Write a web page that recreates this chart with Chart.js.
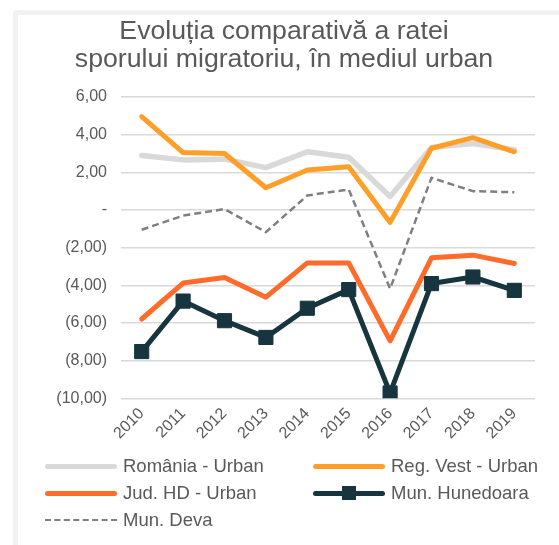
<!DOCTYPE html>
<html>
<head>
<meta charset="utf-8">
<title>Evoluția comparativă a ratei sporului migratoriu</title>
<script src="https://cdn.jsdelivr.net/npm/chart.js@4/dist/chart.umd.min.js"></script>
<style>
  html, body { margin: 0; padding: 0; background: #ffffff; }
  body { width: 559px; height: 545px; position: relative; overflow: hidden; font-family: "Liberation Sans", Arial, sans-serif; }
  .frame { position: absolute; left: 13px; top: 10px; width: 600px; height: 600px; border-left: 5px solid #f2f2f2; border-top: 5px solid #f2f2f2; border-top-left-radius: 4px; }
  .chart-box { position: absolute; left: 0; top: 0; width: 559px; height: 450px; }
  .legend { position: absolute; left: 0; top: 0; width: 559px; height: 545px; pointer-events: none; }
  .legend-item { position: absolute; height: 20px; display: flex; align-items: center; color: #595959; font-size: 18.5px; white-space: nowrap; }
  .legend-line { position: relative; width: 72px; margin-right: 6px; }
  .legend-mark { position: absolute; left: 29px; width: 14px; height: 14px; }
</style>
</head>
<body>
<div class="frame"></div>
<div class="chart-box"><canvas id="myChart"></canvas></div>
<div class="legend js-legend"></div>
<script>
// ani
const years = ['2010', '2011', '2012', '2013', '2014', '2015', '2016', '2017', '2018', '2019'];

const romaniaUrban = [2.89, 2.66, 2.70, 2.25, 3.09, 2.80, 0.72, 3.32, 3.53, 3.20];
const regVestUrban = [4.96, 3.05, 3.00, 1.18, 2.12, 2.30, -0.66, 3.28, 3.84, 3.09];
const judHdUrban = [-5.79, -3.88, -3.59, -4.63, -2.81, -2.81, -6.95, -2.54, -2.40, -2.84];
const munHunedoara = [-7.52, -4.84, -5.88, -6.77, -5.22, -4.23, -9.72, -3.91, -3.56, -4.27];
const munDeva = [-1.05, -0.30, 0.05, -1.18, 0.77, 1.09, -4.18, 1.71, 1.00, 0.94];

const seriesNames = ['România - Urban', 'Reg. Vest - Urban', 'Jud. HD - Urban', 'Mun. Hunedoara', 'Mun. Deva'];
const seriesColors = ['#d9d9d9', '#ff9f2a', '#ff6b2b', '#17353f', '#7f7f7f'];

const yMin = -10;
const yMax = 6;
const yStep = 2;

const textColor = '#595959';

const formatTick = function (value) {
  if (value == 0) {
    return '-';
  }
  let txt = Math.abs(value).toFixed(2).replace('.', ',');
  if (value < 0) {
    return '(' + txt + ')';
  }
  return txt;
};

const makeLegend = function () {
  let htmlLegend = document.querySelector('.js-legend');
  // pozitii pe 2 coloane, ca in original
  let spots = [[45, 456], [313, 456], [45, 483], [313, 483], [45, 510]];
  let html = '';
  for (let i = 0; i < seriesNames.length; i++) {
    let line = '';
    if (i == 4) {
      line = `<div class="legend-line" style="height:0;border-top:2.5px dashed ${seriesColors[i]};"></div>`;
    } else {
      let mark = '';
      if (i == 3) {
        mark = `<div class="legend-mark" style="top:-4.5px;background:${seriesColors[i]};"></div>`;
      }
      line = `<div class="legend-line" style="height:5px;border-radius:3px;background:${seriesColors[i]};">${mark}</div>`;
    }
    html += `<div class="legend-item" style="left:${spots[i][0]}px;top:${spots[i][1]}px;">${line}<span>${seriesNames[i]}</span></div>`;
  }
  htmlLegend.innerHTML = html;
};

const drawChart = function () {
  const ctx = document.getElementById('myChart').getContext('2d');
  const allData = [romaniaUrban, regVestUrban, judHdUrban, munHunedoara, munDeva];
  const drawOrder = [5, 4, 3, 1, 2];

  let datasets = [];
  for (let i = 0; i < seriesNames.length; i++) {
    let ds = {
      label: seriesNames[i],
      data: allData[i],
      borderColor: seriesColors[i],
      backgroundColor: seriesColors[i],
      borderWidth: 5,
      borderJoinStyle: 'round',
      borderCapStyle: 'round',
      pointRadius: 0,
      tension: 0,
      fill: false,
      order: drawOrder[i]
    };
    if (i == 0) {
      ds.borderWidth = 5.5;
    }
    if (i == 3) {
      ds.pointStyle = 'rect';
      ds.pointRadius = 10;
      ds.pointBorderWidth = 1;
      ds.pointBorderColor = seriesColors[i];
    }
    if (i == 4) {
      ds.borderWidth = 2.5;
      ds.borderDash = [7, 4];
      ds.borderCapStyle = 'butt';
    }
    datasets.push(ds);
  }

  const myChart = new Chart(ctx, {
    type: 'line',
    data: {
      labels: years,
      datasets: datasets
    },
    options: {
      responsive: true,
      maintainAspectRatio: false,
      animation: false,
      layout: {
        padding: { left: 33, right: 24, top: 0, bottom: 1 }
      },
      plugins: {
        legend: { display: false },
        tooltip: { enabled: false },
        title: {
          display: true,
          text: ['Evoluția comparativă a ratei', 'sporului migratoriu, în mediul urban'],
          color: textColor,
          font: { family: 'Liberation Sans', size: 26.7, weight: 'normal', lineHeight: 1.03 },
          padding: { top: 18, bottom: 24 }
        }
      },
      scales: {
        x: {
          offset: true,
          grid: { display: false, drawTicks: false },
          border: { display: false },
          ticks: {
            color: textColor,
            font: { family: 'Liberation Sans', size: 16 },
            minRotation: 45,
            maxRotation: 45,
            padding: 6
          }
        },
        y: {
          min: yMin,
          max: yMax,
          afterFit: function (scale) {
            scale.width = 88;
          },
          grid: { color: '#d9d9d9', lineWidth: 1.5, drawTicks: false },
          border: { display: false },
          ticks: {
            stepSize: yStep,
            color: textColor,
            font: { family: 'Liberation Sans', size: 16 },
            padding: 14,
            callback: function (value) {
              return formatTick(value);
            }
          }
        }
      }
    }
  });
};

document.addEventListener('DOMContentLoaded', function () {
  drawChart();
  makeLegend();
});
</script>
</body>
</html>
